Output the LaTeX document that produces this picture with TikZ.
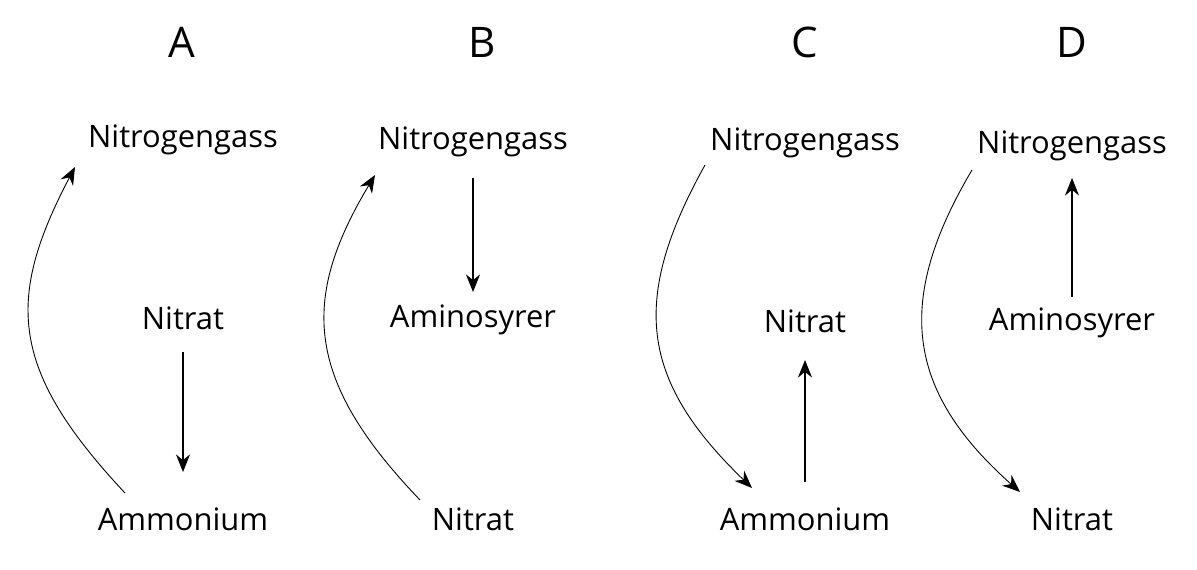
\documentclass[tikz,border=0pt]{standalone}
\usepackage{fontspec}
\setmainfont{Open Sans}
\usetikzlibrary{arrows.meta}
\begin{document}
\begin{tikzpicture}[x=0.02cm,y=-0.02cm,
  lbl/.style={font=\fontsize{17.6}{20}\selectfont},
  hd/.style={font=\fontsize{24}{27}\selectfont},
  arr/.style={-{Stealth[length=10pt,width=8pt]},line width=0.6pt},
  crv/.style={-{Stealth[length=10pt,width=8pt]},line width=0.5pt}]
\useasboundingbox (0,0) rectangle (1197,570);
\node[hd] (hA) at (182,42) {A};
\node[hd] (hB) at (482,42) {B};
\node[hd] (hC) at (805,42) {C};
\node[hd] (hD) at (1072,42) {D};
% A
\node[lbl] (aN) at (183,140) {Nitrogengass};
\node[lbl] (aT) at (183,318) {Nitrat};
\node[lbl] (aA) at (183,519) {Ammonium};
\coordinate (aS) at (125,493); \coordinate (aE) at (75,167);
\draw[arr] (183,352) -- (183,472);
\draw[crv] (aS) .. controls (10,370) and (5,300) .. (aE);
% B
\node[lbl] (bN) at (473,142) {Nitrogengass};
\node[lbl] (bA) at (473,320) {Aminosyrer};
\node[lbl] (bT) at (473,519) {Nitrat};
\coordinate (bS) at (420,500); \coordinate (bE) at (375,175);
\draw[arr] (473,178) -- (473,292);
\draw[crv] (bS) .. controls (305,380) and (300,300) .. (bE);
% C
\node[lbl] (cN) at (805,143) {Nitrogengass};
\node[lbl] (cT) at (805,321) {Nitrat};
\node[lbl] (cA) at (805,519) {Ammonium};
\coordinate (cS) at (705,165); \coordinate (cE) at (752,488);
\draw[arr] (805,482) -- (805,360);
\draw[crv] (cS) .. controls (630,300) and (640,380) .. (cE);
% D
\node[lbl] (dN) at (1072,146) {Nitrogengass};
\node[lbl] (dA) at (1072,323) {Aminosyrer};
\node[lbl] (dT) at (1072,519) {Nitrat};
\coordinate (dS) at (972,170); \coordinate (dE) at (1020,492);
\draw[arr] (1072,297) -- (1072,178);
\draw[crv] (dS) .. controls (895,300) and (905,390) .. (dE);
\end{tikzpicture}
\end{document}
